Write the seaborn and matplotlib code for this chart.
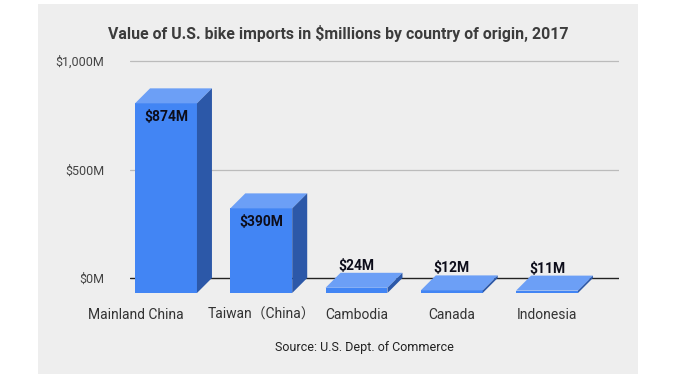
import matplotlib
matplotlib.use("Agg")
import matplotlib.pyplot as plt
from matplotlib.patches import Polygon, Rectangle
from matplotlib.transforms import ScaledTranslation
import seaborn as sns
import pandas as pd

countries = ["Mainland China", "Taiwan\uff08China\uff09", "Cambodia", "Canada", "Indonesia"]
values = [874, 390, 24, 12, 11]
ytick_values = [0, 500, 1000]
ytick_labels = ["$0M", "$500M", "$1,000M"]
title = "Value of U.S. bike imports in $millions by country of origin, 2017"
source = "Source: U.S. Dept. of Commerce"

FRONT = "#4285f4"
TOP = "#6c9ff6"
SIDE = "#2c58a8"
BG = "#eeeeee"

sns.set_style("white")
plt.rcParams["font.family"] = ["Roboto", "Noto Sans CJK SC", "DejaVu Sans"]

W, H = 676, 380
fig = plt.figure(figsize=(W / 100, H / 100), dpi=100)
fig.patch.set_facecolor("white")
fig.patches.append(Rectangle((38 / W, 1 - 374 / H), 600 / W, 370 / H,
                             transform=fig.transFigure, facecolor=BG,
                             edgecolor="none", zorder=-10))

# axes geometry (pixels)
ax_l, ax_r = 130, 619
y0_px, px_per_val = 278, 0.217
ylim = (-100, 1030)
ax_top = y0_px - ylim[1] * px_per_val
ax_bot = y0_px - ylim[0] * px_per_val
ax = fig.add_axes([ax_l / W, 1 - ax_bot / H, (ax_r - ax_l) / W, (ax_bot - ax_top) / H])
ax.set_facecolor("none")

spacing = 95.25
first_center = 181
xlim = (-(first_center - ax_l) / spacing, (ax_r - first_center) / spacing)

df = pd.DataFrame({"country": countries, "value": values})
sns.barplot(data=df, x="country", y="value", color=FRONT, width=0.65,
            saturation=1, ax=ax, zorder=3, edgecolor="none", linewidth=0)
ax.set_xlim(*xlim)
ax.set_ylim(*ylim)

depth_px = 15
dx = depth_px / spacing
dy = depth_px / px_per_val

for p, v in zip(ax.patches, values):
    x0, w, h = p.get_x(), p.get_width(), p.get_height()
    p.set_x(x0 - dx)
    p.set_y(-dy)
    p.set_height(h)
    p.set_facecolor(FRONT)
    top = Polygon([(x0 - dx, h - dy), (x0 + w - dx, h - dy), (x0 + w, h), (x0, h)],
                  closed=True, facecolor=TOP, edgecolor="none", zorder=3)
    side = Polygon([(x0 + w - dx, -dy), (x0 + w, 0), (x0 + w, h), (x0 + w - dx, h - dy)],
                   closed=True, facecolor=SIDE, edgecolor="none", zorder=3)
    ax.add_patch(top)
    ax.add_patch(side)
    cx = x0 + w / 2
    label = f"${v:,.0f}M"
    if v > 100:
        ax.annotate(label, (cx, v), xytext=(-depth_px, -depth_px - 14),
                    textcoords="offset pixels", ha="center", va="center",
                    fontsize=10, fontweight="bold", color="#0d0d1a", zorder=5)
    else:
        ax.annotate(label, (cx, v), xytext=(-depth_px, 7),
                    textcoords="offset pixels", ha="center", va="center",
                    fontsize=10, fontweight="bold", color="#0d0d1a", zorder=5)

# gridlines
for t in ytick_values:
    if t == 0:
        ax.axhline(t, color="#222222", lw=1, zorder=1)
    else:
        ax.axhline(t, color="#bbbbbb", lw=0.9, zorder=1)

for s in ax.spines.values():
    s.set_visible(False)

ax.set_yticks(ytick_values)
ax.set_yticklabels(ytick_labels, fontsize=9, color="#444444")
ax.tick_params(axis="y", length=0, pad=26 * 0.72)
ax.tick_params(axis="x", length=0, pad=6, labelsize=10, labelcolor="#333333")
ax.set_xlabel("")
ax.set_ylabel("")

for i, lab in enumerate(ax.get_xticklabels()):
    shift = -45.5 if i == 0 else -depth_px
    lab.set_transform(lab.get_transform() + ScaledTranslation(shift / 100, 0, fig.dpi_scale_trans))

fig.text(338 / W, 1 - 33 / H, title, ha="center", va="center",
         fontsize=11.45, fontweight="bold", color="#3c3c3c")
fig.text(364.5 / W, 1 - 348 / H, source, ha="center", va="center",
         fontsize=9, color="#222222")

fig.savefig("out.png", dpi=100)
